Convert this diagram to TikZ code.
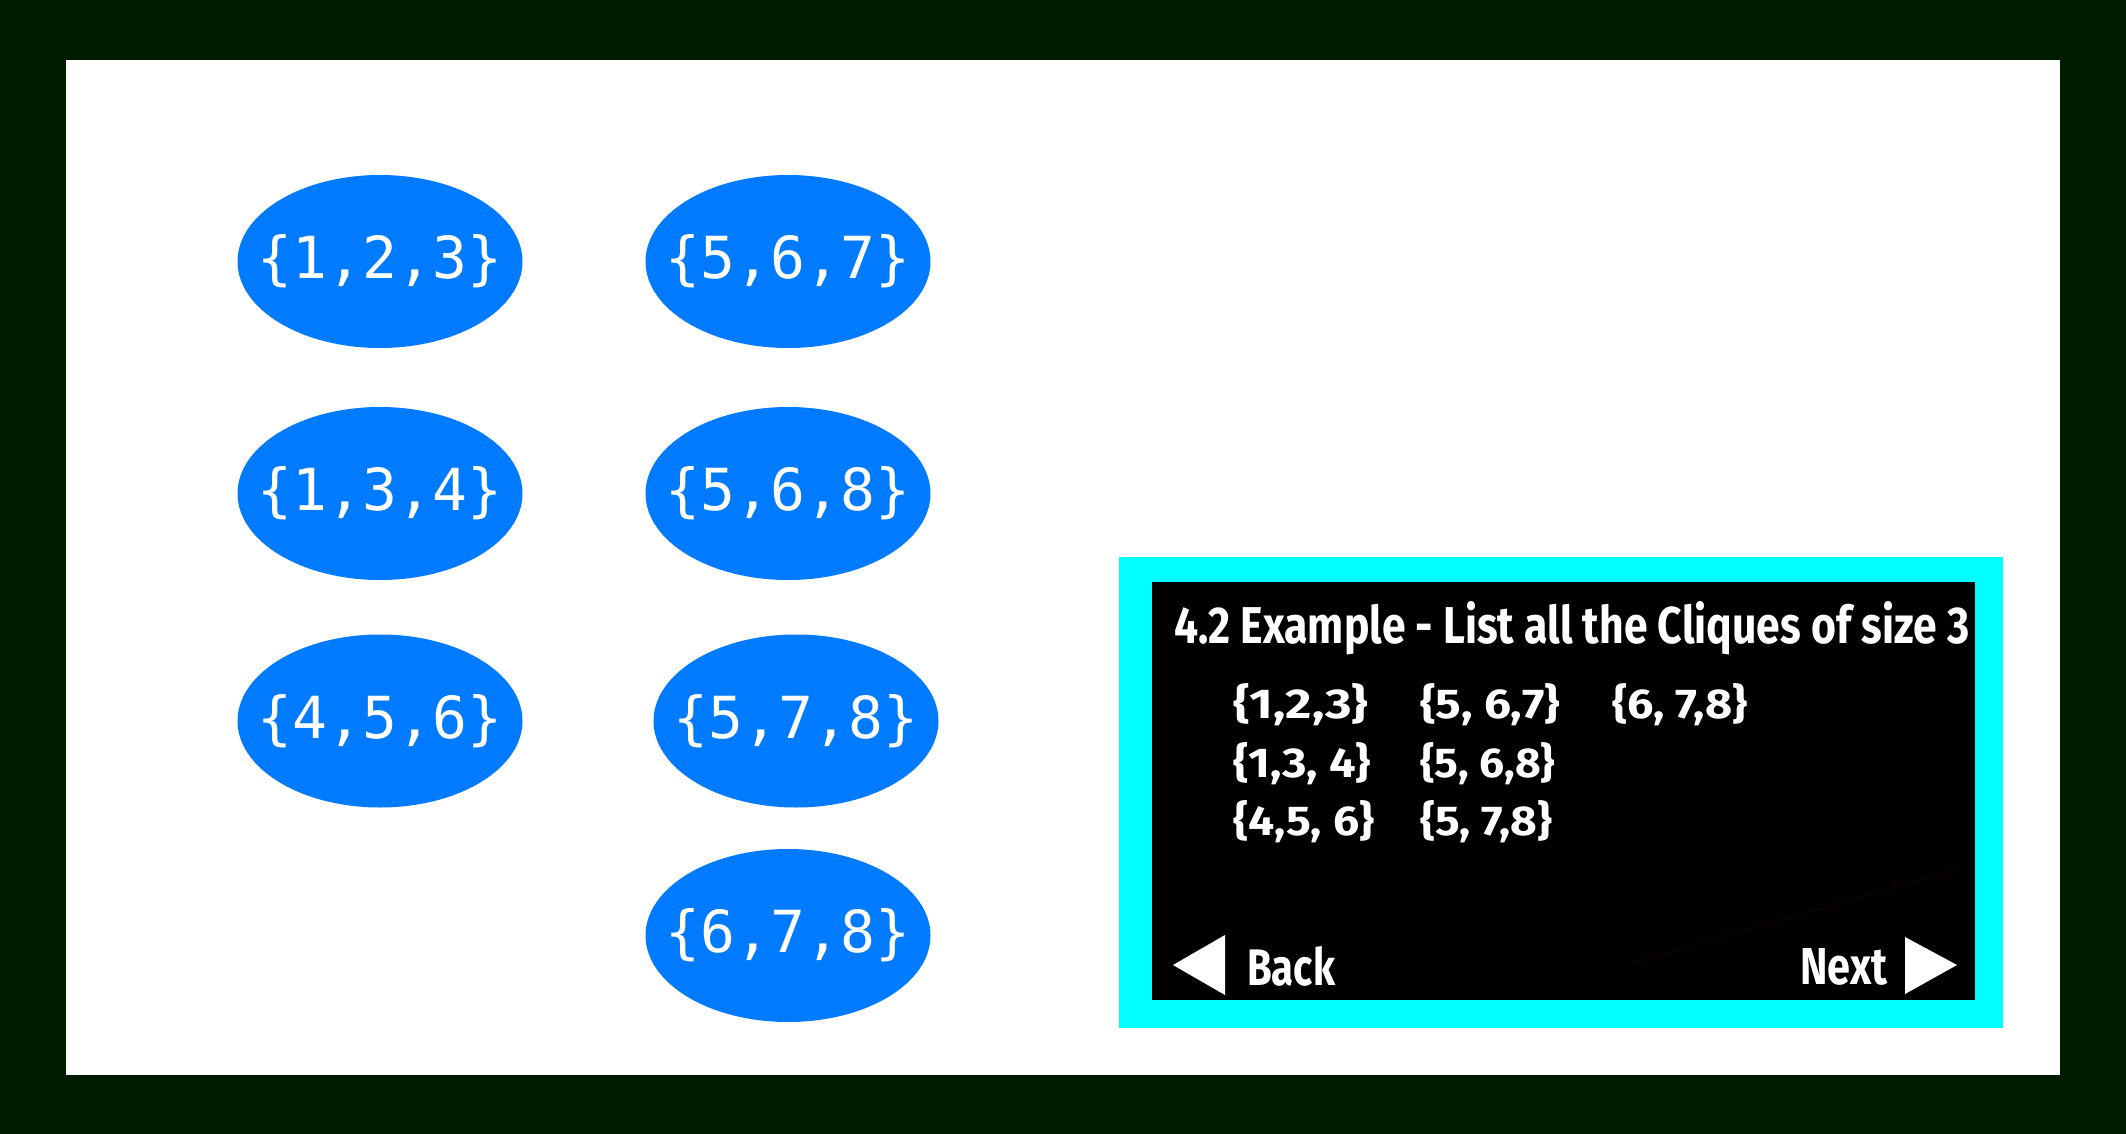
\documentclass[tikz,border=0pt]{standalone}
\usepackage{fontspec}
\usepackage{graphicx}
\usetikzlibrary{shapes.geometric}
\newfontfamily\monofam{DejaVu Sans Mono}
\newfontfamily\handfam{Fira Sans}
\definecolor{darkbg}{RGB}{0,28,0}
\definecolor{blobblue}{RGB}{0,122,255}
\definecolor{panelcyan}{RGB}{0,255,255}
\definecolor{faintred}{RGB}{28,0,3}
\newcommand{\ptext}[3]{\resizebox{#1pt}{#2pt}{\handfam\bfseries #3}}
\begin{document}
\begin{tikzpicture}[x=1pt,y=-1pt,
  blob/.style={ellipse,fill=blobblue,draw=none,minimum width=285pt,minimum height=173pt,inner sep=0pt},
  blobtext/.style={text=white,inner sep=0pt,font=\monofam\fontsize{58}{60}\selectfont},
  ptxt/.style={text=white,inner sep=0pt,anchor=base west},
  navtri/.style={fill=white,draw=none}]
\useasboundingbox (0,0) rectangle (2126,1134);
\fill[darkbg] (0,0) rectangle (2126,1134);
\fill[white] (66,60) rectangle (2060,1075);
% ellipses
\node[blob] (a1) at (380,261.5) {};
\node[blob] (a2) at (380,493.5) {};
\node[blob] (a3) at (380,721) {};
\node[blob] (b1) at (788,261.5) {};
\node[blob] (b2) at (788,493.5) {};
\node[blob] (b3) at (796,721) {};
\node[blob] (b4) at (788,935.5) {};
\node[blobtext] (ta1) at (a1) {\{1,2,3\}};
\node[blobtext] (ta2) at (a2) {\{1,3,4\}};
\node[blobtext] (ta3) at (a3) {\{4,5,6\}};
\node[blobtext] (tb1) at (b1) {\{5,6,7\}};
\node[blobtext] (tb2) at (b2) {\{5,6,8\}};
\node[blobtext] (tb3) at (b3) {\{5,7,8\}};
\node[blobtext] (tb4) at (b4) {\{6,7,8\}};
% panel
\fill[panelcyan] (1119,557) rectangle (2003,1028);
\fill[black] (1152,582) rectangle (1975,1000);
\draw[faintred,line width=0.8pt] (1632,963) -- (1962,868);
\node[ptxt] (title) at (1174,643) {\ptext{795}{42}{4.2 Example - List all the Cliques of size 3}};
\node[ptxt] (c11) at (1233,718) {\ptext{135}{35}{\{1,2,3\}}};
\node[ptxt] (c12) at (1420,718) {\ptext{140}{35}{\{5, 6,7\}}};
\node[ptxt] (c13) at (1612,718) {\ptext{135}{35}{\{6, 7,8\}}};
\node[ptxt] (c21) at (1233,777) {\ptext{138}{35}{\{1,3, 4\}}};
\node[ptxt] (c22) at (1420,777) {\ptext{135}{35}{\{5, 6,8\}}};
\node[ptxt] (c31) at (1233,835) {\ptext{141}{35}{\{4,5, 6\}}};
\node[ptxt] (c32) at (1420,835) {\ptext{132}{35}{\{5, 7,8\}}};
\fill[navtri] (1173,965) -- (1225,935) -- (1225,995) -- cycle;
\node[ptxt] (back) at (1247,985) {\ptext{88}{39}{Back}};
\node[ptxt] (next) at (1800,984) {\ptext{87}{36}{Next}};
\fill[navtri] (1905,937) -- (1957,965) -- (1905,994) -- cycle;
\end{tikzpicture}
\end{document}
